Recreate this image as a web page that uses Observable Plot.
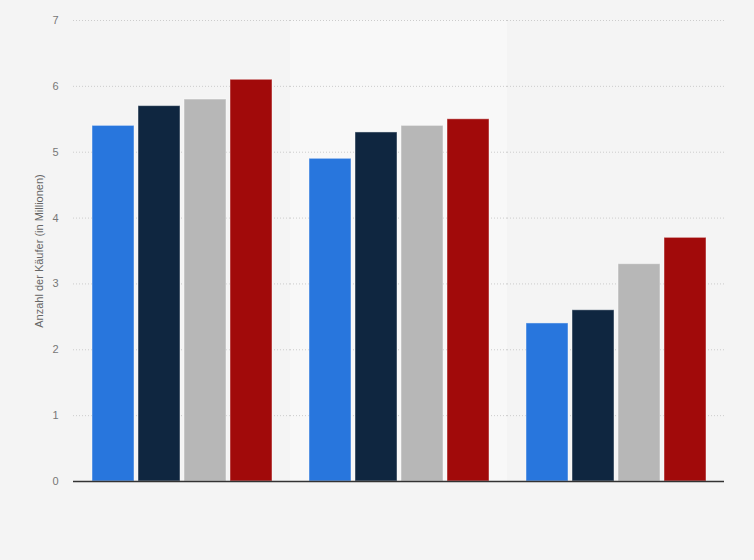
<!DOCTYPE html>
<html>
<head>
<meta charset="utf-8">
<script src="https://cdn.jsdelivr.net/npm/d3@7"></script>
<script src="https://cdn.jsdelivr.net/npm/@observablehq/plot@0.6"></script>
<style>
  html, body { margin: 0; padding: 0; background: #f4f4f4; }
  #chart { width: 754px; height: 560px; }
</style>
</head>
<body>
<div id="chart"></div>
<script>
const groups = ["Gruppe 1", "Gruppe 2", "Gruppe 3"];
const series = ["2016", "2017", "2018", "2019"];
const colors = ["#2876dd", "#0f2640", "#b7b7b7", "#a10a0a"];
const values = [
  [5.4, 5.7, 5.8, 6.1],
  [4.9, 5.3, 5.4, 5.5],
  [2.4, 2.6, 3.3, 3.7]
];
const yTicks = [0, 1, 2, 3, 4, 5, 6, 7];
const yLabel = "Anzahl der Käufer (in Millionen)";

const data = [];
groups.forEach((g, i) => series.forEach((s, j) => data.push({group: g, series: s, value: values[i][j]})));

const chart = Plot.plot({
  width: 754,
  height: 560,
  marginLeft: 73,
  marginRight: 30,
  marginTop: 20,
  marginBottom: 79,
  style: {background: "#f4f4f4", fontFamily: "Arial, 'Liberation Sans', sans-serif", fontSize: "11px", color: "#666"},
  fx: {domain: groups, padding: 0, axis: null},
  x: {domain: series, paddingInner: 0.093, paddingOuter: 0.39, axis: null},
  y: {domain: [0, 7]},
  color: {domain: series, range: colors},
  marks: [
    Plot.rect([{group: groups[1]}], {fx: "group", fill: "#f8f8f8"}),
    Plot.gridY(yTicks, {stroke: "#cccccc", strokeOpacity: 1, strokeDasharray: "1,2"}),
    Plot.axisY(yTicks, {tickSize: 0, tickPadding: 15, tickFormat: d => String(d), label: null, fill: "#777", fontSize: 11}),
    Plot.text([{group: groups[0], t: yLabel}], {fx: "group", text: "t", frameAnchor: "left", textAnchor: "middle", dx: -34, rotate: -90, fill: "#666", fontSize: 11}),
    Plot.barY(data, {fx: "group", x: "series", y: "value", fill: "series", stroke: "#ffffff", strokeOpacity: 0.45, strokeWidth: 1}),
    Plot.ruleY([0], {stroke: "#333", strokeWidth: 1.5})
  ]
});
document.getElementById("chart").appendChild(chart);
</script>
</body>
</html>
